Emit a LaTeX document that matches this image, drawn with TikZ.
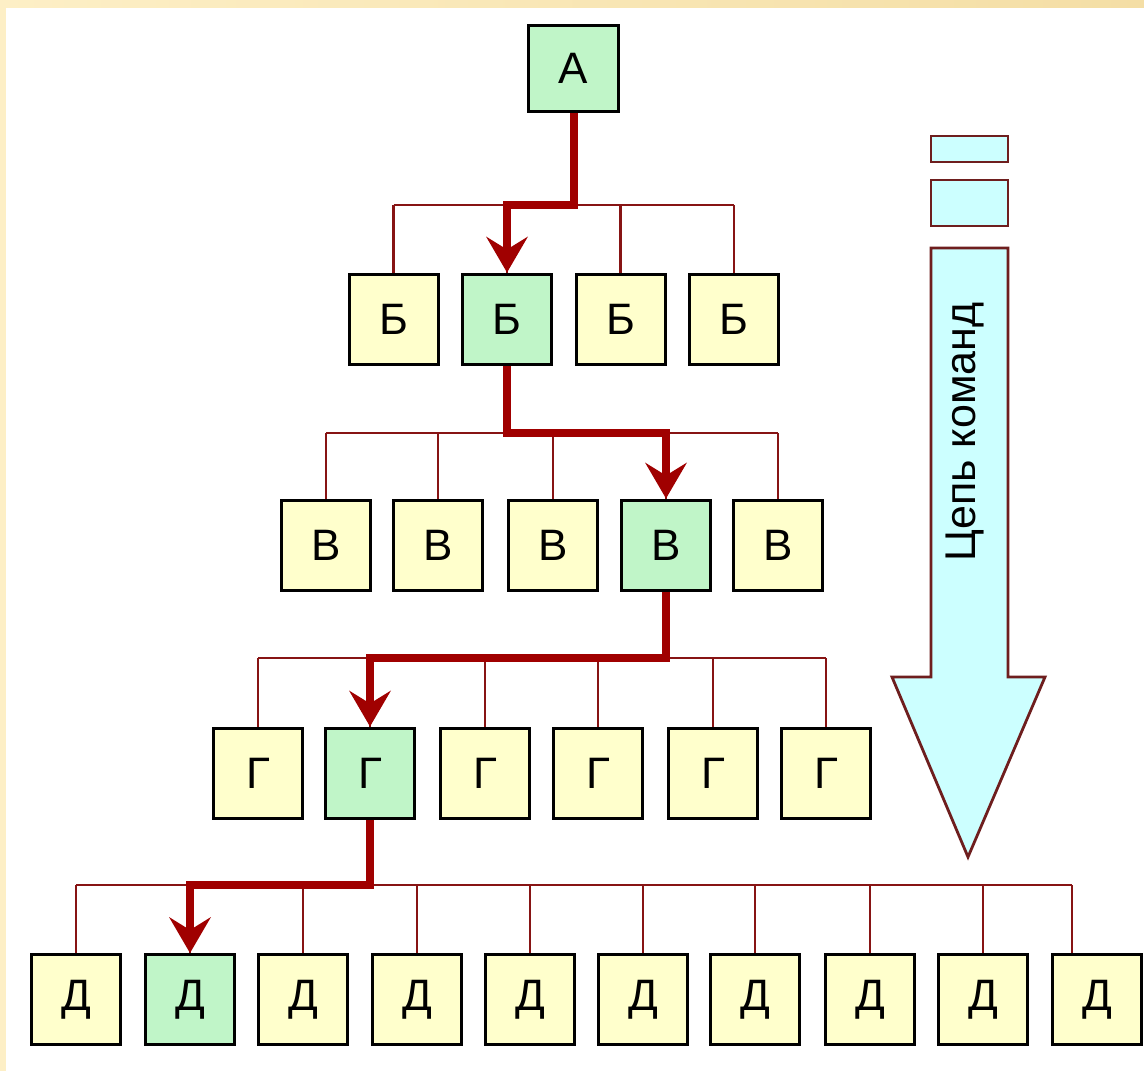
\documentclass[tikz,border=0pt]{standalone}
\usepackage{fontspec}
\setmainfont{Liberation Sans}
\usetikzlibrary{arrows.meta}
\definecolor{boxYellow}{RGB}{255,255,204}
\definecolor{boxGreen}{RGB}{192,245,200}
\definecolor{thinRed}{RGB}{135,20,20}
\definecolor{thickRed}{RGB}{160,0,0}
\definecolor{arrCyan}{RGB}{204,255,255}
\definecolor{arrLine}{RGB}{110,30,30}
\definecolor{frameA}{RGB}{253,239,198}
\definecolor{frameB}{RGB}{244,222,165}
\tikzset{
  box/.style={draw=black, line width=3pt, minimum width=89pt, minimum height=90pt,
    inner sep=0pt, font=\fontsize{44}{50}\selectfont},
  ybox/.style={box, fill=boxYellow},
  gbox/.style={box, fill=boxGreen},
  bus/.style={draw=thinRed, line width=2.6pt},
  chain/.style={draw=thickRed, line width=8pt,
    -{Stealth[length=36pt, width=42pt, inset=13pt, line width=0pt]}},
  bigarrow/.style={draw=arrLine, line width=2.8pt, fill=arrCyan, line join=miter}
}
\begin{document}
\begin{tikzpicture}[x=1pt, y=-1pt]
\useasboundingbox (0,0) rectangle (1144,1071);
\fill[white] (0,0) rectangle (1144,1071);
% frame strips
\shade[left color=frameA, right color=frameB] (0,0) rectangle (1144,7);
\fill[frameA] (0,0) rectangle (6,1071);

% nodes
\node[gbox, minimum width=90pt, minimum height=86pt] (a) at (573.5,68.5) {А};

\node[ybox] (b1) at (393.5,319) {Б};
\node[gbox] (b2) at (507,319) {Б};
\node[ybox] (b3) at (620.5,319) {Б};
\node[ybox] (b4) at (734,319) {Б};

\node[ybox] (v1) at (326,545) {В};
\node[ybox] (v2) at (438,545) {В};
\node[ybox] (v3) at (553,545) {В};
\node[gbox] (v4) at (666,545) {В};
\node[ybox] (v5) at (778,545) {В};

\node[ybox] (g1) at (258,773) {Г};
\node[gbox] (g2) at (370,773) {Г};
\node[ybox] (g3) at (485,773) {Г};
\node[ybox] (g4) at (598,773) {Г};
\node[ybox] (g5) at (713,773) {Г};
\node[ybox] (g6) at (826,773) {Г};

\node[ybox] (d1) at (76,999.5) {Д};
\node[gbox] (d2) at (190,999.5) {Д};
\node[ybox] (d3) at (303,999.5) {Д};
\node[ybox] (d4) at (417,999.5) {Д};
\node[ybox] (d5) at (530,999.5) {Д};
\node[ybox] (d6) at (643,999.5) {Д};
\node[ybox] (d7) at (755,999.5) {Д};
\node[ybox] (d8) at (870,999.5) {Д};
\node[ybox] (d9) at (983,999.5) {Д};
\node[ybox] (d10) at (1097,999.5) {Д};

% bus levels
\coordinate (busB) at (0,205);
\coordinate (busV) at (0,433);
\coordinate (busG) at (0,658);
\coordinate (busD) at (0,885);
\coordinate (d10drop) at (1072,885);

% thin connectors
\draw[bus] (b1.north |- busB) -- (b4.north |- busB);
\foreach \n in {b1,b2,b3,b4} \draw[bus] (\n.north |- busB) -- (\n.north);
\draw[bus] (v1.north |- busV) -- (v5.north |- busV);
\foreach \n in {v1,v2,v3,v4,v5} \draw[bus] (\n.north |- busV) -- (\n.north);
\draw[bus] (g1.north |- busG) -- (g6.north |- busG);
\foreach \n in {g1,g2,g3,g4,g5,g6} \draw[bus] (\n.north |- busG) -- (\n.north);
\draw[bus] (d1.north |- busD) -- (d10drop);
\foreach \n in {d1,d2,d3,d4,d5,d6,d7,d8,d9} \draw[bus] (\n.north |- busD) -- (\n.north);
\draw[bus] (d10drop) -- (d10drop |- d10.north);

% chain of command
\draw[chain] (a.south) -- (a.south |- busB) -| (b2.north);
\draw[chain] (b2.south) -- (b2.south |- busV) -| (v4.north);
\draw[chain] (v4.south) -- (v4.south |- busG) -| (g2.north);
\draw[chain] (g2.south) -- (g2.south |- busD) -| (d2.north);

% big arrow
\draw[bigarrow] (931,136) rectangle (1008,162);
\draw[bigarrow] (931,180) rectangle (1008,226);
\draw[bigarrow] (931,248) -- (1008,248) -- (1008,677) -- (1045,677) -- (968,857)
  -- (892,677) -- (931,677) -- cycle;
\node[rotate=90, font=\fontsize{43}{48}\selectfont, inner sep=0pt] (lbl) at (965,432) {Цепь команд};
\end{tikzpicture}
\end{document}
